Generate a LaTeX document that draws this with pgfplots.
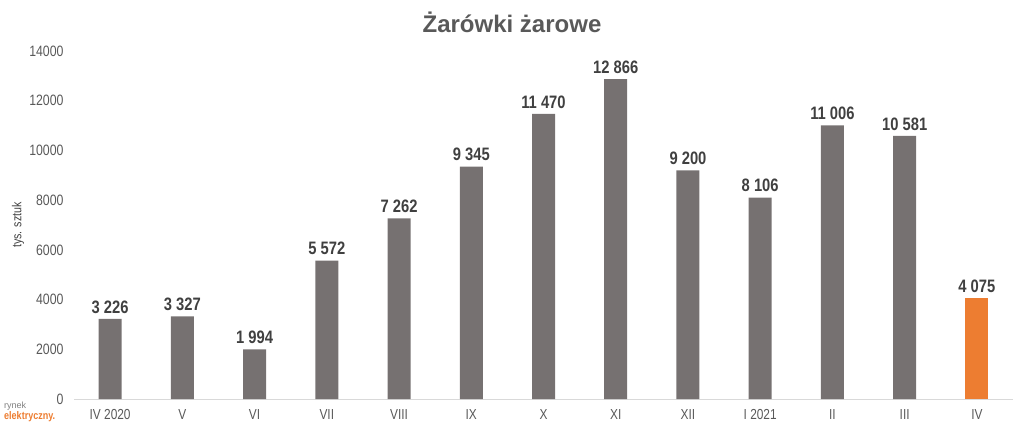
\documentclass[border=0pt]{standalone}
\usepackage{fontspec}
\setmainfont{Liberation Sans}
\newfontfamily\narrow{Liberation Sans}[FakeStretch=0.82]
\usepackage{pgfplots}
\pgfplotsset{compat=1.18}
\definecolor{bargray}{HTML}{767171}
\definecolor{barorange}{HTML}{ED7D31}
\definecolor{txtgray}{HTML}{595959}
\definecolor{lblgray}{HTML}{404040}
\definecolor{axgray}{HTML}{D9D9D9}
\begin{document}
\begin{tikzpicture}
\useasboundingbox (0,0) rectangle (1024pt,432pt);
\begin{axis}[
  at={(74pt,33pt)}, anchor=south west,
  scale only axis, width=939pt, height=348pt,
  xmin=-0.5, xmax=12.5, ymin=0, ymax=14000,
  ybar, bar width=23pt, bar shift=0pt,
  xtick={0,...,12},
  xticklabels={IV 2020,V,VI,VII,VIII,IX,X,XI,XII,I 2021,II,III,IV},
  ytick={0,2000,...,14000},
  scaled y ticks=false,
  /pgf/number format/assume math mode=true,
  yticklabel style={/pgf/number format/1000 sep={}, /pgf/number format/fixed, font=\narrow\fontsize{15}{15}\selectfont, text=txtgray, xshift=-7pt},
  xticklabel style={font=\narrow\fontsize{14.5}{14.5}\selectfont, text=txtgray, yshift=-3pt},
  axis y line*=left, axis x line*=bottom,
  y axis line style={draw=none},
  x axis line style={axgray, line width=1pt, -},
  xtick style={draw=none}, ytick style={draw=none},
  nodes near coords,
  every node near coord/.append style={font=\narrow\bfseries\fontsize{18}{18}\selectfont, text=lblgray, /pgf/number format/1000 sep={\ }, yshift=2pt},
  clip=false,
]
\addplot[fill=bargray, draw=none] coordinates {
  (0,3226) (1,3327) (2,1994) (3,5572) (4,7262) (5,9345) (6,11470)
  (7,12866) (8,9200) (9,8106) (10,11006) (11,10581)
};
\addplot[fill=barorange, draw=none] coordinates {(12,4075)};
\end{axis}
\node[font=\bfseries\fontsize{24}{24}\selectfont, text=txtgray] at (512pt,410pt) {Żarówki żarowe};
\node[font=\narrow\fontsize{13}{13}\selectfont, text=lblgray, rotate=90] at (18pt,207pt) {tys. sztuk};
\node[font=\fontsize{9}{9}\selectfont, text=gray, anchor=west, inner sep=0pt] at (4pt,26pt) {\textrm{rynek}};
\node[font=\narrow\bfseries\fontsize{11}{11}\selectfont, text=barorange, anchor=west, inner sep=0pt] at (4pt,15pt) {elektryczny.};
\end{tikzpicture}
\end{document}
